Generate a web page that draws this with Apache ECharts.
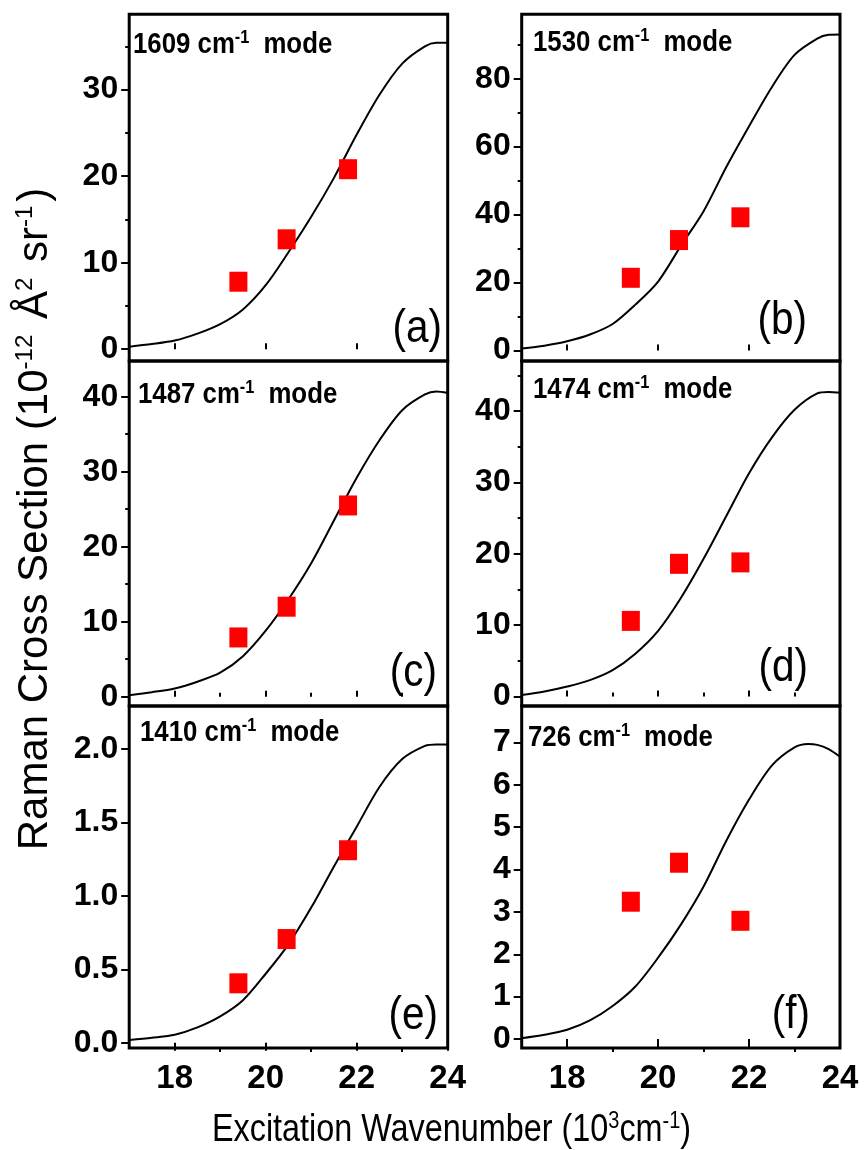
<!DOCTYPE html>
<html><head><meta charset="utf-8">
<script src="https://cdn.jsdelivr.net/npm/echarts@6/dist/echarts.min.js"></script>
<style>html,body{margin:0;padding:0;background:#fff}#c{width:864px;height:1150px}</style>
</head><body><div id="c"></div>
<script>
// ---------- data ----------
const expX = [19.40, 20.46, 21.81];            // excitation wavenumbers (10^3 cm-1)
const expA = [7.8, 12.7, 20.8];
const expB = [21.4, 32.5, 39.2];
const expC = [7.9, 12.0, 25.5];
const expD = [10.6, 18.6, 18.8];
const expE = [0.405, 0.706, 1.31];
const expF = [3.24, 4.16, 2.79];

const curveX  = [17.0, 17.5, 18.0, 18.5, 19.0, 19.5, 20.0, 20.5, 21.0, 21.5, 22.0, 22.5, 23.0, 23.5, 23.75, 24.0];
const curveA  = [0.3, 0.6, 1.0, 1.8, 2.9, 4.6, 7.4, 11.2, 15.3, 19.8, 24.8, 29.4, 33.0, 35.0, 35.4, 35.4];
const curveB  = [0.6, 1.4, 2.7, 4.7, 7.8, 13.5, 20.3, 30.8, 41.0, 54.0, 66.0, 77.5, 87.0, 91.8, 92.9, 93.0];
const curveC  = [0.2, 0.6, 1.1, 2.0, 3.2, 5.4, 8.8, 13.0, 17.8, 23.5, 29.2, 34.2, 38.2, 40.3, 40.7, 40.5];
const curveD  = [0.2, 0.7, 1.4, 2.3, 3.7, 6.0, 9.2, 13.8, 19.3, 25.3, 31.3, 36.3, 40.2, 42.5, 42.7, 42.6];
const curveE  = [0.02, 0.035, 0.055, 0.105, 0.18, 0.29, 0.47, 0.67, 0.92, 1.20, 1.47, 1.74, 1.93, 2.02, 2.03, 2.03];
const curveFX = [17.0, 17.5, 18.0, 18.5, 19.0, 19.5, 20.0, 20.5, 21.0, 21.5, 22.0, 22.5, 23.0, 23.3, 23.5, 23.75, 24.0];
const curveF  = [0.02, 0.1, 0.22, 0.44, 0.78, 1.24, 1.92, 2.70, 3.60, 4.68, 5.65, 6.45, 6.88, 6.96, 6.94, 6.84, 6.66];

const modeNames = ['1609', '1530', '1487', '1474', '1410', '726'];
const panelLetters = ['(a)', '(b)', '(c)', '(d)', '(e)', '(f)'];
const xMajorTicks = [18, 20, 22, 24];
const xMinorTicks = [19, 21, 23];
const yMajorA = [0, 10, 20, 30],  yMinorA = [5, 15, 25, 35];
const yMajorB = [0, 20, 40, 60, 80], yMinorB = [10, 30, 50, 70, 90];
const yMajorC = [0, 10, 20, 30, 40], yMinorC = [5, 15, 25, 35];
const yMajorD = [0, 10, 20, 30, 40], yMinorD = [5, 15, 25, 35, 45];
const yMajorE = [0, 0.5, 1.0, 1.5, 2.0], yMinorE = [];
const yMajorF = [0, 1, 2, 3, 4, 5, 6, 7], yMinorF = [];
const yRanges = [[-1.36, 38.71], [-3.09, 98.98], [-1.24, 44.76], [-1.33, 47.03], [-0.035, 2.291], [-0.211, 7.857]];

// ---------- layout ----------
const FONT = "'Liberation Sans',Arial,sans-serif";
const cols = [{left: 129.2, width: 318.5}, {left: 521.7, width: 318.3}];
const rows = [{top: 14.2, height: 346.8}, {top: 361, height: 345}, {top: 706, height: 342}];

const panels = [
  {exp: expA, cx: curveX, cy: curveA, maj: yMajorA, min: yMinorA, xMinor: false, bottom: false, dec: 0,
   mode: [133, 44.5], letter: [442, 329]},
  {exp: expB, cx: curveX, cy: curveB, maj: yMajorB, min: yMinorB, xMinor: false, bottom: false, dec: 0,
   mode: [533, 42.5], letter: [807, 321.5]},
  {exp: expC, cx: curveX, cy: curveC, maj: yMajorC, min: yMinorC, xMinor: true, bottom: false, dec: 0,
   mode: [138, 394.5], letter: [437, 673.5]},
  {exp: expD, cx: curveX, cy: curveD, maj: yMajorD, min: yMinorD, xMinor: true, bottom: false, dec: 0,
   mode: [533, 389.5], letter: [808, 668.5]},
  {exp: expE, cx: curveX, cy: curveE, maj: yMajorE, min: yMinorE, xMinor: true, bottom: true, dec: 1,
   mode: [140, 732.5], letter: [438, 1016.5]},
  {exp: expF, cx: curveFX, cy: curveF, maj: yMajorF, min: yMinorF, xMinor: true, bottom: true, dec: 0,
   mode: [528, 737.5], letter: [810, 1015.5]}
];

const grid = [], xAxis = [], yAxis = [], series = [], graphic = [];
const black = '#000';
panels.forEach((p, i) => {
  const c = cols[i % 2], r = rows[Math.floor(i / 2)];
  grid.push({left: c.left, top: r.top, width: c.width, height: r.height, show: true,
    borderColor: black, borderWidth: 3, backgroundColor: 'transparent', containLabel: false});
  const xi = xAxis.length;
  xAxis.push({type: 'value', gridIndex: i, min: 17, max: 24, position: 'bottom',
    axisLine: {show: false}, splitLine: {show: false},
    axisTick: {show: true, inside: !p.bottom, length: p.bottom ? 8 : 6, customValues: xMajorTicks,
      lineStyle: {color: black, width: 2}},
    axisLabel: {show: p.bottom, customValues: xMajorTicks, margin: 14, color: black,
      fontSize: 33, fontWeight: 'bold', fontFamily: FONT}});
  if (p.xMinor) {
    xAxis.push({type: 'value', gridIndex: i, min: 17, max: 24, position: 'bottom',
      axisLine: {show: false}, splitLine: {show: false}, axisLabel: {show: false},
      axisTick: {show: true, inside: !p.bottom, length: 4, customValues: xMinorTicks,
        lineStyle: {color: black, width: 2}}});
  }
  const yi = yAxis.length;
  const dec = p.dec;
  yAxis.push({type: 'value', gridIndex: i, min: yRanges[i][0], max: yRanges[i][1], position: 'left',
    axisLine: {show: false}, splitLine: {show: false},
    axisTick: {show: true, length: 8, customValues: p.maj, lineStyle: {color: black, width: 2}},
    axisLabel: {show: true, customValues: p.maj, margin: 11, color: black, fontSize: 32,
      fontWeight: 'bold', fontFamily: FONT, formatter: v => (+v).toFixed(dec)}});
  if (p.min.length) {
    yAxis.push({type: 'value', gridIndex: i, min: yRanges[i][0], max: yRanges[i][1], position: 'left',
      axisLine: {show: false}, splitLine: {show: false}, axisLabel: {show: false},
      axisTick: {show: true, length: 4, customValues: p.min, lineStyle: {color: black, width: 2}}});
  }
  series.push({type: 'line', xAxisIndex: xi, yAxisIndex: yi, data: p.cx.map((x, k) => [x, p.cy[k]]),
    showSymbol: false, smooth: 0.3, lineStyle: {color: black, width: 2}, z: 2, silent: true});
  series.push({type: 'scatter', xAxisIndex: xi, yAxisIndex: yi,
    data: expX.map((x, k) => [x, p.exp[k]]), symbol: 'rect', symbolSize: [18, 20],
    itemStyle: {color: '#ff0000', opacity: 1}, z: 3, silent: true});
  graphic.push({type: 'text', x: p.mode[0], y: p.mode[1], scaleX: 0.86, z: 10, style: {
    text: '{m|' + modeNames[i] + ' cm}{s|-1}{m| mode}', align: 'left', verticalAlign: 'middle',
    rich: {m: {fontSize: 30, fontWeight: 'bold', fontFamily: FONT, fill: black},
           s: {fontSize: 19, fontWeight: 'bold', fontFamily: FONT, fill: black, padding: [0, 8, 14, 0]}}}});
  graphic.push({type: 'text', x: p.letter[0], y: p.letter[1], scaleX: 0.88, z: 10, style: {
    text: panelLetters[i], align: 'right', verticalAlign: 'middle',
    fontSize: 46, fontFamily: FONT, fill: black}});
});

graphic.push({type: 'text', x: 451.5, y: 1130, scaleX: 0.83, z: 10, style: {
  text: '{t|Excitation Wavenumber (10}{s|3}{t|cm}{s|-1}{t|)}', align: 'center', verticalAlign: 'middle',
  rich: {t: {fontSize: 39, fontFamily: FONT, fill: black},
         s: {fontSize: 24, fontFamily: FONT, fill: black, padding: [0, 0, 18, 0]}}}});
graphic.push({type: 'text', x: 35, y: 519, rotation: Math.PI / 2, z: 10, style: {
  text: '{t|Raman Cross Section (10}{s|-12}{t| Å}{s|2}{t| sr}{s|-1}{t|)}', align: 'center', verticalAlign: 'middle',
  rich: {t: {fontSize: 42, fontFamily: FONT, fill: black},
         s: {fontSize: 24, fontFamily: FONT, fill: black, padding: [0, 4, 20, 0]}}}});

const chart = echarts.init(document.getElementById('c'), null, {renderer: 'canvas'});
chart.setOption({animation: false, backgroundColor: '#fff', grid, xAxis, yAxis, series, graphic});
</script>
</body></html>
